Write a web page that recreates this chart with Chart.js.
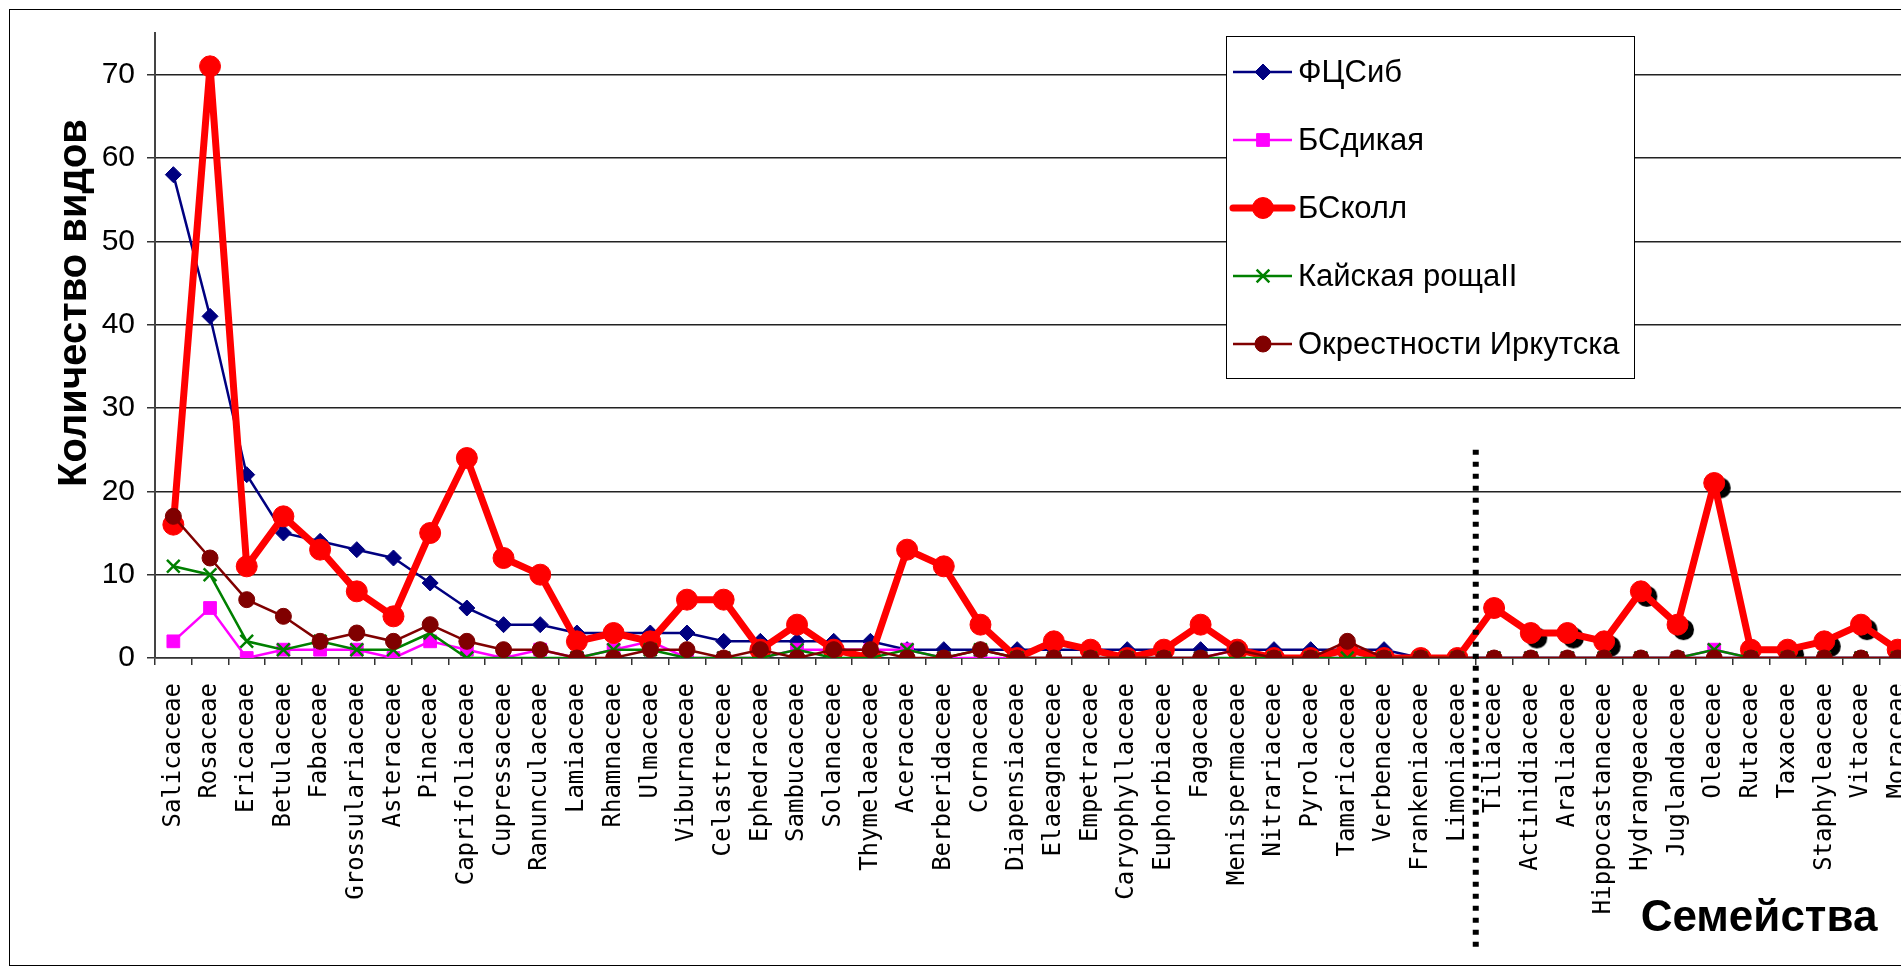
<!DOCTYPE html>
<html>
<head>
<meta charset="utf-8">
<script src="https://cdn.jsdelivr.net/npm/chart.js@4.4.1/dist/chart.umd.min.js"></script>
<style>
html, body { margin: 0; padding: 0; background: #fff; overflow: hidden; width: 1901px; height: 971px; }
#frame { position: absolute; left: 9px; top: 9px; width: 1960px; height: 955px; border: 1px solid #000; background: #fff; }
canvas { display: block; }
</style>
</head>
<body>
<div id="frame"><canvas id="chart" width="1960" height="955"></canvas></div>
<script>
// Семейства (categories)
const families = [
    'Salicaceae', 'Rosaceae', 'Ericaceae', 'Betulaceae', 'Fabaceae', 'Grossulariaceae',
    'Asteraceae', 'Pinaceae', 'Caprifoliaceae', 'Cupressaceae', 'Ranunculaceae', 'Lamiaceae',
    'Rhamnaceae', 'Ulmaceae', 'Viburnaceae', 'Celastraceae', 'Ephedraceae', 'Sambucaceae',
    'Solanaceae', 'Thymelaeaceae', 'Aceraceae', 'Berberidaceae', 'Cornaceae', 'Diapensiaceae',
    'Elaeagnaceae', 'Empetraceae', 'Caryophyllaceae', 'Euphorbiaceae', 'Fagaceae', 'Menispermaceae',
    'Nitrariaceae', 'Pyrolaceae', 'Tamaricaceae', 'Verbenaceae', 'Frankeniaceae', 'Limoniaceae',
    'Tiliaceae', 'Actinidiaceae', 'Araliaceae', 'Hippocastanaceae', 'Hydrangeaceae', 'Juglandaceae',
    'Oleaceae', 'Rutaceae', 'Taxaceae', 'Staphyleaceae', 'Vitaceae', 'Moraceae'
];

const seriesNames = ['ФЦСиб', 'БСдикая', 'БСколл', 'Кайская рощаII', 'Окрестности Иркутска'];

const fcSib       = [58, 41, 22, 15, 14, 13, 12, 9, 6, 4, 4, 3, 3, 3, 3, 2, 2, 2, 2, 2, 1, 1, 1, 1, 1, 1, 1, 1, 1, 1, 1, 1, 1, 1, 0, 0, 0, 0, 0, 0, 0, 0, 0, 0, 0, 0, 0, 0];
const bsWild      = [2, 6, 0, 1, 1, 1, 0, 2, 1, 0, 1, 0, 1, 2, 0, 0, 0, 1, 1, 1, 1, 0, 0, 0, 0, 0, 0, 0, 0, 1, 0, 0, 0, 0, 0, 0, 0, 0, 0, 0, 0, 0, 1, 0, 0, 0, 0, 0];
const bsColl      = [16, 71, 11, 17, 13, 8, 5, 15, 24, 12, 10, 2, 3, 2, 7, 7, 1, 4, 1, 0, 13, 11, 4, 0, 2, 1, 0, 1, 4, 1, 0, 0, 1, 0, 0, 0, 6, 3, 3, 2, 8, 4, 21, 1, 1, 2, 4, 1];
const kaiGrove    = [11, 10, 2, 1, 2, 1, 1, 3, 0, 0, 0, 0, 1, 1, 0, 0, 0, 1, 0, 0, 1, 0, 1, 0, 0, 0, 0, 0, 0, 0, 0, 0, 0, 0, 0, 0, 0, 0, 0, 0, 0, 0, 1, 0, 0, 0, 0, 0];
const irkutsk     = [17, 12, 7, 5, 2, 3, 2, 4, 2, 1, 1, 0, 0, 1, 1, 0, 1, 0, 1, 1, 0, 0, 1, 0, 0, 0, 0, 0, 0, 1, 0, 0, 2, 0, 0, 0, 0, 0, 0, 0, 0, 0, 0, 0, 0, 0, 0, 0];
// shadowed points of БСколл right of the divider
const bsCollShade = [null, null, null, null, null, null, null, null, null, null, null, null, null, null, null, null, null, null, null, null, null, null, null, null, null, null, null, null, null, null, null, null, null, null, null, null, null, 3, 3, 2, 8, 4, 21, null, 1, 2, 4, null];

const yTicksMax = 75;
const yTickStep = 10;
const dividerAt = 35.5;   // between Limoniaceae and Tiliaceae

const CANVAS_W = 1960, CANVAS_H = 955;
const AREA = { left: 145, top: 23, bottom: 648, right: 1906 };
const LEGEND = { x: 1216, y: 26, w: 408, h: 342, first: 62, step: 68 };

function shadowDot(r, dx, dy) {
    const c = document.createElement('canvas');
    const s = Math.ceil((r + Math.max(dx, dy)) * 2 + 4);
    c.width = s;
    c.height = s;
    const g = c.getContext('2d');
    g.fillStyle = '#000';
    g.beginPath();
    g.arc(s / 2 + dx, s / 2 + dy, r, 0, Math.PI * 2);
    g.fill();
    return c;
}

function series(label, data, color, width, style, radius, order, extra) {
    return Object.assign({
        label: label,
        data: data,
        borderColor: color,
        backgroundColor: color,
        borderWidth: width,
        pointStyle: style,
        pointRadius: radius,
        pointBackgroundColor: color,
        pointBorderColor: color,
        pointBorderWidth: 1,
        tension: 0,
        order: order
    }, extra || {});
}

const datasets = [
    series(seriesNames[0], fcSib, '#000080', 2.5, 'rectRot', 8, 6),
    series(seriesNames[1], bsWild, '#ff00ff', 2.5, 'rect', 9, 5),
    series(seriesNames[2], bsColl, '#ff0000', 7, 'circle', 10.5, 3, { borderJoinStyle: 'round', borderCapStyle: 'round' }),
    series(seriesNames[3], kaiGrove, '#008000', 2.5, 'crossRot', 9, 2, { pointBorderWidth: 2.5 }),
    series(seriesNames[4], irkutsk, '#800000', 2.5, 'circle', 8, 1),
    series('', bsCollShade, '#000', 0, shadowDot(10.5, 6, 5), 10, 4, { showLine: false })
];

const titlesPlugin = {
    id: 'axisTitles',
    afterDraw(chart) {
        const ctx = chart.ctx;
        const xs = chart.scales.x, ys = chart.scales.y;
        ctx.save();
        // dotted divider
        const dx = xs.getPixelForValue(dividerAt);
        ctx.strokeStyle = '#000';
        ctx.lineWidth = 6;
        ctx.setLineDash([5, 7]);
        ctx.beginPath();
        ctx.moveTo(dx, ys.getPixelForValue(25));
        ctx.lineTo(dx, chart.height - 17);
        ctx.stroke();
        ctx.setLineDash([]);

        ctx.fillStyle = '#000';
        ctx.font = 'bold 40px "Liberation Sans", Arial, sans-serif';
        ctx.textAlign = 'center';
        ctx.textBaseline = 'middle';
        ctx.save();
        ctx.translate(65, 293);
        ctx.rotate(-Math.PI / 2);
        ctx.fillText('Количество видов', 0, 0);
        ctx.restore();

        ctx.font = 'bold 44px "Liberation Sans", Arial, sans-serif';
        ctx.textBaseline = 'alphabetic';
        ctx.fillText('Семейства', 1749, 921);
        ctx.restore();
    }
};

const legendPlugin = {
    id: 'boxLegend',
    afterDraw(chart) {
        const ctx = chart.ctx;
        ctx.save();
        ctx.fillStyle = '#fff';
        ctx.fillRect(LEGEND.x, LEGEND.y, LEGEND.w, LEGEND.h);
        ctx.strokeStyle = '#000';
        ctx.lineWidth = 1;
        ctx.strokeRect(LEGEND.x + 0.5, LEGEND.y + 0.5, LEGEND.w, LEGEND.h);
        seriesNames.forEach(function (name, i) {
            const ds = chart.data.datasets[i];
            const cy = LEGEND.first + i * LEGEND.step;
            ctx.strokeStyle = ds.borderColor;
            ctx.lineWidth = ds.borderWidth;
            ctx.lineCap = i === 2 ? 'round' : 'butt';
            ctx.beginPath();
            ctx.moveTo(1223, cy);
            ctx.lineTo(1282, cy);
            ctx.stroke();
            ctx.fillStyle = ds.pointBackgroundColor;
            ctx.strokeStyle = ds.pointBorderColor;
            ctx.lineWidth = ds.pointBorderWidth;
            if (Chart.helpers && Chart.helpers.drawPoint) {
                Chart.helpers.drawPoint(ctx, {
                    pointStyle: ds.pointStyle,
                    rotation: 0,
                    radius: ds.pointRadius,
                    borderWidth: ds.pointBorderWidth
                }, 1253, cy);
            } else {
                ctx.beginPath();
                ctx.arc(1253, cy, ds.pointRadius, 0, Math.PI * 2);
                ctx.fill();
            }
            ctx.fillStyle = '#000';
            ctx.font = '31px "Liberation Sans", Arial, sans-serif';
            ctx.textAlign = 'left';
            ctx.textBaseline = 'middle';
            ctx.fillText(name, 1288, cy + 1);
        });
        ctx.restore();
    }
};

const isTop = c => c.tick && c.tick.value === yTicksMax;

new Chart(document.getElementById('chart'), {
    type: 'line',
    data: { labels: families, datasets: datasets },
    options: {
        responsive: false,
        animation: false,
        devicePixelRatio: 1,
        layout: {
            autoPadding: false,
            padding: { left: 0, top: AREA.top, right: CANVAS_W - AREA.right, bottom: 0 }
        },
        plugins: { legend: { display: false }, tooltip: { enabled: false } },
        scales: {
            x: {
                offset: true,
                afterFit: scale => {
                    scale.height = CANVAS_H - AREA.bottom;
                    scale.paddingLeft = 0;
                    scale.paddingRight = 0;
                },
                grid: { offset: true, drawOnChartArea: false, drawTicks: true, tickLength: 7, color: '#333', lineWidth: 1.5 },
                border: { color: '#333', width: 1.5 },
                ticks: {
                    autoSkip: false,
                    maxRotation: 90,
                    minRotation: 90,
                    padding: 18,
                    color: '#000',
                    font: { family: '"DejaVu Sans Mono", monospace', size: 24 }
                }
            },
            y: {
                min: 0,
                max: yTicksMax,
                afterFit: scale => {
                    scale.width = AREA.left;
                    scale.paddingTop = 0;
                    scale.paddingBottom = 0;
                },
                grid: {
                    color: c => isTop(c) ? '#888' : '#222',
                    lineWidth: c => isTop(c) ? 3 : 1.5,
                    tickColor: c => isTop(c) ? 'rgba(0,0,0,0)' : '#333',
                    tickLength: 8
                },
                border: { color: '#444', width: 2 },
                ticks: {
                    stepSize: yTickStep,
                    padding: 12,
                    color: '#000',
                    font: { family: '"Liberation Sans", Arial, sans-serif', size: 30 },
                    callback: v => v === yTicksMax ? null : v
                }
            }
        }
    },
    plugins: [titlesPlugin, legendPlugin]
});
</script>
</body>
</html>
